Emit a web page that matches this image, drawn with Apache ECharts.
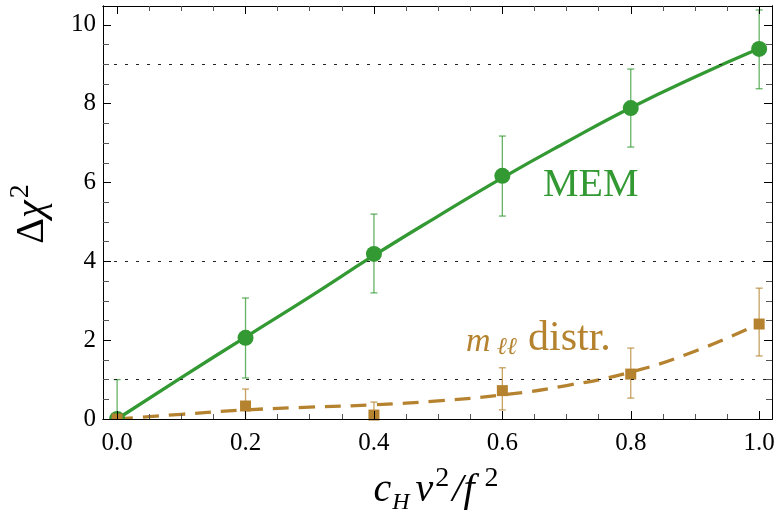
<!DOCTYPE html>
<html>
<head>
<meta charset="utf-8">
<script src="https://cdn.jsdelivr.net/npm/echarts@6/dist/echarts.min.js"></script>
<style>
  html, body { margin: 0; padding: 0; background: #fff; }
  #chart { width: 777px; height: 516px; }
</style>
</head>
<body>
<div id="chart"></div>
<script>
// data
const xVals = [0, 0.2, 0.4, 0.6, 0.8, 1.0]
const memVals = [0, 2.06, 4.19, 6.17, 7.89, 9.39]
const memLow = [-1, 1.04, 3.2, 5.15, 6.9, 8.38]
const memHigh = [1, 3.07, 5.2, 7.18, 8.88, 10.38]
const mllVals = [0, 0.33, 0.1, 0.72, 1.14, 2.41]
const mllLow = [0, -0.1, -0.23, 0.23, 0.53, 1.6]
const mllHigh = [0, 0.76, 0.43, 1.3, 1.8, 3.32]

// fitted curves
const fitX = [0, 0.1, 0.2, 0.3, 0.4, 0.5, 0.6, 0.7, 0.8, 0.9, 1.0]
const memFit = [0, 1.05, 2.08, 3.1, 4.15, 5.15, 6.12, 7.03, 7.9, 8.68, 9.4]
const mllFit = [0, 0.12, 0.23, 0.3, 0.36, 0.46, 0.61, 0.85, 1.19, 1.72, 2.42]

const refLevels = [1, 4, 9]
const xTicks = [0, 0.2, 0.4, 0.6, 0.8, 1.0]
const xMinorTicks = [0.05, 0.1, 0.15, 0.25, 0.3, 0.35, 0.45, 0.5, 0.55, 0.65, 0.7, 0.75, 0.85, 0.9, 0.95]
const yTicks = [0, 2, 4, 6, 8, 10]
const yMinorTicks = [0.5, 1, 1.5, 2.5, 3, 3.5, 4.5, 5, 5.5, 6.5, 7, 7.5, 8.5, 9, 9.5, 10.5]

const green = '#339933'
const brown = '#b5832f'
const serif = 'Liberation Serif'

const chart = echarts.init(document.getElementById('chart'))

const X_MIN = -0.022, X_MAX = 1.02
const Y_MIN = 0, Y_MAX = 10.48

// one axis = line + ticks (+ labels)
const makeAxis = (pos, min, max, ticks, len, labels, extra) => Object.assign({
  type: 'value',
  position: pos,
  min: min,
  max: max,
  axisLine: { show: true, onZero: false, lineStyle: { color: '#000', width: 1 } },
  axisTick: { show: true, inside: true, length: len, customValues: ticks, lineStyle: { color: len > 6 ? '#000' : '#555', width: 1 } },
  axisLabel: { show: false },
  splitLine: { show: false },
  z: 20
}, extra || {})

const errItems = (lo, hi) => xVals.map((x, i) => [x, lo[i], hi[i]])

const errSeries = (lo, hi, color) => ({
  type: 'custom',
  clip: true,
  z: 2,
  data: errItems(lo, hi),
  renderItem: (params, api) => {
    const top = api.coord([api.value(0), api.value(2)])
    const bot = api.coord([api.value(0), api.value(1)])
    const w = 3.5
    const style = { stroke: color, lineWidth: 1.3 }
    return {
      type: 'group',
      children: [
        { type: 'line', shape: { x1: top[0], y1: top[1], x2: bot[0], y2: bot[1] }, style },
        { type: 'line', shape: { x1: top[0] - w, y1: top[1], x2: top[0] + w, y2: top[1] }, style },
        { type: 'line', shape: { x1: bot[0] - w, y1: bot[1], x2: bot[0] + w, y2: bot[1] }, style }
      ]
    }
  }
})

const nameRich = {
  n: { fontFamily: serif, fontSize: 40, color: '#000', lineHeight: 50 },
  i: { fontFamily: serif, fontSize: 40, fontStyle: 'italic', color: '#000', lineHeight: 50 },
  f: { fontFamily: serif, fontSize: 40, fontStyle: 'italic', color: '#000', lineHeight: 50, padding: [0, 8, 0, 0] },
  sub: { fontFamily: serif, fontSize: 24, fontStyle: 'italic', color: '#000', verticalAlign: 'bottom', padding: [0, 6, 0, 1] },
  sup: { fontFamily: serif, fontSize: 28, color: '#000', verticalAlign: 'top', padding: [0, 3, 0, 2] }
}

const option = {
  animation: false,
  backgroundColor: '#fff',
  grid: { left: 103, top: 6, right: 5, bottom: 97, containLabel: false, outerBoundsMode: 'none' },
  xAxis: [
    makeAxis('bottom', X_MIN, X_MAX, xTicks, 8, true, {
      axisLabel: { show: true, customValues: xTicks, fontFamily: serif, fontSize: 25, color: '#000', margin: 12,
        formatter: v => v.toFixed(1) },
      name: '{i|c}{sub|H}{i|v}{sup|2}{i|/}{f|f}{sup|2}',
      nameLocation: 'middle',
      nameGap: 46,
      nameTextStyle: { rich: nameRich }
    }),
    makeAxis('bottom', X_MIN, X_MAX, xMinorTicks, 5),
    makeAxis('top', X_MIN, X_MAX, xTicks, 8),
    makeAxis('top', X_MIN, X_MAX, xMinorTicks, 5)
  ],
  yAxis: [
    makeAxis('left', Y_MIN, Y_MAX, yTicks, 8, true, {
      axisLabel: { show: true, customValues: yTicks, fontFamily: serif, fontSize: 25, color: '#000', margin: 7 },
      name: '{n|Δ}{i|χ}{sup|2}',
      nameLocation: 'middle',
      nameGap: 46,
      nameTextStyle: { rich: nameRich }
    }),
    makeAxis('left', Y_MIN, Y_MAX, yMinorTicks, 6),
    makeAxis('right', Y_MIN, Y_MAX, yTicks, 8),
    makeAxis('right', Y_MIN, Y_MAX, yMinorTicks, 6)
  ],
  series: [
    {
      type: 'line',
      data: fitX.map((x, i) => [x, memFit[i]]),
      smooth: true,
      showSymbol: false,
      z: 3,
      lineStyle: { color: green, width: 3.3 },
      markLine: {
        silent: true,
        symbol: 'none',
        label: { show: false },
        lineStyle: { color: '#222', width: 1, type: [3, 8] },
        data: refLevels.map(v => ({ yAxis: v }))
      }
    },
    {
      type: 'line',
      data: fitX.map((x, i) => [x, mllFit[i]]),
      smooth: true,
      showSymbol: false,
      z: 3,
      lineStyle: { color: brown, width: 3.3, type: [16, 10] }
    },
    errSeries(memLow, memHigh, 'rgba(51,153,51,0.75)'),
    errSeries(mllLow, mllHigh, 'rgba(181,131,47,0.75)'),
    {
      type: 'scatter',
      z: 4,
      symbol: 'circle',
      symbolSize: 16,
      itemStyle: { color: green, opacity: 1 },
      data: xVals.map((x, i) => [x, memVals[i]])
    },
    {
      type: 'scatter',
      z: 4,
      symbol: 'rect',
      symbolSize: 11,
      itemStyle: { color: brown, opacity: 1 },
      data: xVals.map((x, i) => [x, mllVals[i]])
    }
  ],
  graphic: [
    // hide the part of the x=0 markers that falls below the frame
    {
      type: 'rect', left: 104, top: 420, z: 15,
      shape: { width: 30, height: 9 },
      style: { fill: '#fff' }
    },
    {
      type: 'text', left: 543, top: 165, z: 10,
      style: { text: 'MEM', fontFamily: serif, fontSize: 40, fill: green }
    },
    {
      type: 'text', left: 466, top: 325, z: 10,
      style: { text: 'm', fontFamily: serif, fontSize: 34, fontStyle: 'italic', fill: brown }
    },
    {
      type: 'text', left: 497, top: 336, z: 10,
      style: { text: 'ℓℓ', fontFamily: serif, fontSize: 24, fontStyle: 'italic', fill: brown }
    },
    {
      type: 'text', left: 528, top: 318, z: 10,
      style: { text: 'distr.', fontFamily: serif, fontSize: 42, fill: brown }
    }
  ]
}

chart.setOption(option)
</script>
</body>
</html>
